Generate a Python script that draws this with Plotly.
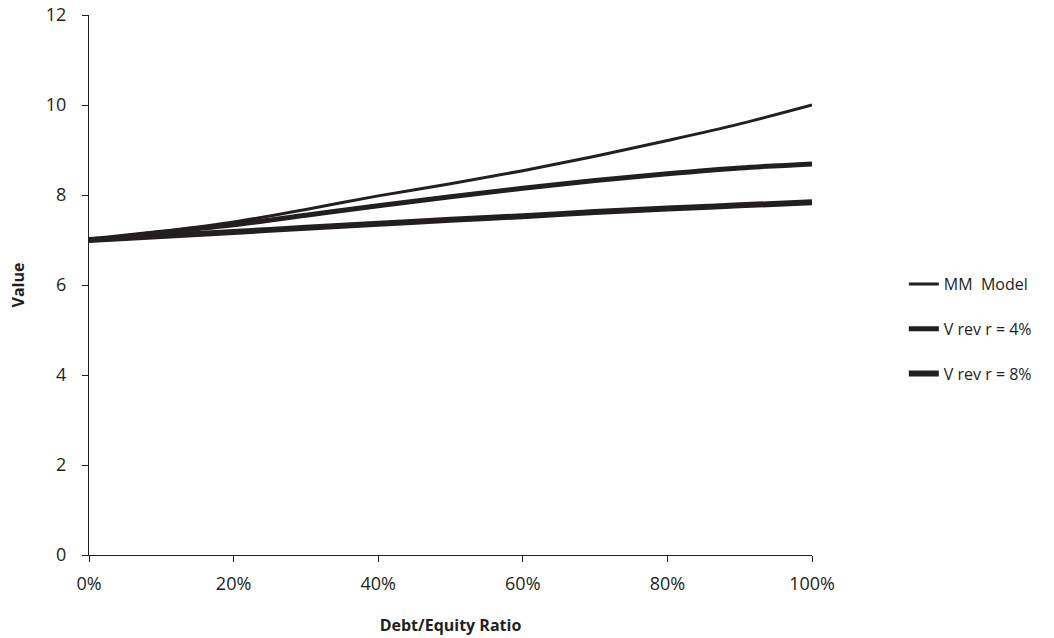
import plotly.graph_objects as go

debt_equity = [0.0, 0.1, 0.2, 0.3, 0.4, 0.5, 0.6, 0.7, 0.8, 0.9, 1.0]
mm_model = [7.0, 7.19, 7.40, 7.68, 7.98, 8.25, 8.54, 8.86, 9.21, 9.58, 10.0]
v_rev_4 = [7.0, 7.17, 7.34, 7.55, 7.76, 7.96, 8.15, 8.32, 8.47, 8.60, 8.69]
v_rev_8 = [7.0, 7.09, 7.18, 7.27, 7.36, 7.45, 7.53, 7.62, 7.70, 7.77, 7.84]

series_names = ["MM  Model", "V rev r = 4%", "V rev r = 8%"]
x_ticks = [0, 0.2, 0.4, 0.6, 0.8, 1.0]
x_ticklabels = ["0%", "20%", "40%", "60%", "80%", "100%"]
y_ticks = [0, 2, 4, 6, 8, 10, 12]

ink = "#231f20"
font_family = "Open Sans, Noto Sans, sans-serif"

fig = go.Figure()
for name, ys, w in zip(series_names, [mm_model, v_rev_4, v_rev_8], [3, 5, 6]):
    fig.add_trace(go.Scatter(
        x=debt_equity, y=ys, mode="lines", name=name,
        line=dict(color=ink, width=w, shape="spline"),
        legendgroup=name,
    ))

fig.update_layout(
    width=1054, height=638,
    margin=dict(l=89, r=242, t=15, b=83),
    paper_bgcolor="white", plot_bgcolor="white",
    font=dict(family=font_family, color=ink, size=18),
    showlegend=True,
    legend=dict(
        x=1.127, xanchor="left", y=0.4185, yanchor="middle",
        font=dict(size=16, color=ink),
        tracegroupgap=21, traceorder="grouped",
        bgcolor="rgba(0,0,0,0)",
    ),
    xaxis=dict(
        range=[0, 1], tickvals=x_ticks, ticktext=x_ticklabels,
        showgrid=False, zeroline=False, automargin=False,
        showline=True, linecolor=ink, linewidth=1.2,
        ticks="outside", ticklen=6, tickcolor=ink, tickwidth=1,
        ticklabelstandoff=6, ticklabeloverflow="allow",
        title=dict(text="<b>Debt/Equity Ratio</b>", font=dict(size=16, color=ink), standoff=26),
    ),
    yaxis=dict(
        range=[0, 12], tickvals=y_ticks,
        showgrid=False, zeroline=False, automargin=False,
        showline=True, linecolor=ink, linewidth=1.2,
        ticks="outside", ticklen=6, tickcolor=ink, tickwidth=1,
        ticklabelstandoff=12, ticklabeloverflow="allow",
        title=dict(text="<b>Value</b>", font=dict(size=16, color=ink), standoff=17),
    ),
)

fig.write_html("out.html", config={"displayModeBar": False},
               post_script="document.body.style.margin='0';")
